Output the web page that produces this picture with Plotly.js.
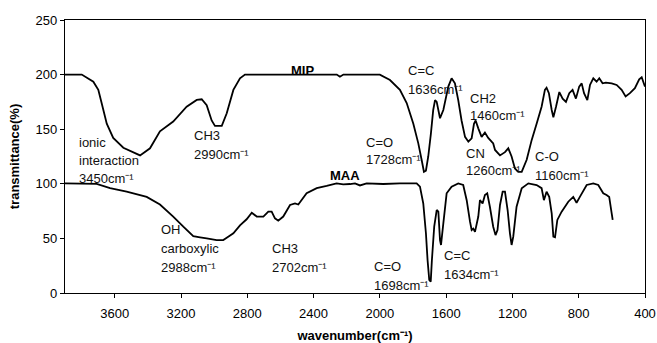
<!DOCTYPE html>
<html>
<head>
<meta charset="utf-8">
<script src="https://cdn.plot.ly/plotly-3.0.1.min.js"></script>
<style>html,body{margin:0;padding:0;background:#fff;}#chart{width:657px;height:343px;}</style>
</head>
<body>
<div id="chart"></div>
<script>
// MIP spectrum (wavenumber cm-1, transmittance %)
var mipWn = [3900,3799,3729,3699,3679,3648,3609,3548,3447,3387,3327,3247,3166,3105,3075,3045,3015,2995,2954,2924,2884,2844,2814,2500,2260,2241,2220,2060,2000,1939,1879,1838,1798,1768,1748,1734,1722,1708,1692,1678,1667,1657,1637,1617,1587,1567,1547,1527,1507,1486,1466,1446,1432,1422,1406,1386,1366,1346,1316,1305,1275,1245,1225,1205,1185,1165,1144,1114,1084,1054,1024,1004,994,980,963,953,937,917,897,877,857,837,817,797,782,768,748,732,712,692,676,656,636,601,571,541,517,491,461,435,420,400];
var mipT  = [200,200,193.5,186,174,155,142,133,126,132.5,148,157,170.6,176.8,177.4,172,158,153,153,164.6,186,196.6,200,200,200,198,200,200,200,195,186,174,155,137,122,111,112,125,146,167.6,176.7,175,160,167.6,189,196.6,192,176.7,158,143,138.6,141.7,155,158,150.8,143,147,142,137,131,126,129,132.5,125,114,111,111,122,140,155,170.6,186,188,183,167.6,161,170.6,184,178,175,183,186,178,189,192,183,176.7,190.5,196.6,193.5,196.6,192,192.6,192,190.5,186,180,183,187.5,195.7,197.6,189];
// MAA spectrum
var maaWn = [3900,3709,3628,3528,3407,3327,3247,3186,3126,3085,3045,2985,2945,2924,2884,2844,2804,2773,2743,2703,2673,2653,2633,2613,2583,2542,2512,2492,2442,2381,2321,2261,2221,2180,2150,2120,2080,1979,1879,1778,1758,1738,1722,1712,1702,1693,1686,1672,1657,1647,1637,1631,1617,1597,1567,1527,1497,1476,1456,1446,1436,1426,1406,1396,1380,1366,1352,1336,1316,1302,1290,1275,1259,1245,1229,1215,1205,1195,1175,1144,1104,1054,1024,1010,994,978,963,953,943,929,903,863,833,813,793,752,712,682,652,632,616,601,595];
var maaT  = [100.4,100,96,92.8,88,81,70,60.7,52,51,50,48.5,48.5,50.6,54.7,62,67.5,73.5,70,70,74.5,74.5,68.4,66.2,70,80.6,82,81,91.3,96,98,100.4,99.5,99.8,100.4,98.5,100.4,99.8,100.4,100.4,97.4,82,54.7,30,12,10.4,30,60.7,76,74.5,48.5,44,63.8,91.3,97.4,100.4,98.9,85,65.3,57.7,59,56,70,85,82,89.7,91.3,79,60.7,53,57.7,80.6,92.8,92.8,76,54.7,44,51.6,79,96,100.4,98.9,96,85,92.8,88,73,51.6,51,66.9,74.5,83.6,88,82.7,88,98.9,100.4,98.9,91.3,89.7,88,73,66.9];

var xTicks = [3600,3200,2800,2400,2000,1600,1200,800,400];
var yTicks = [0,50,100,150,200,250];

var lineStyle = {color:'#000', width:1.8, shape:'linear', simplify:false};
var traces = [
  {x: mipWn, y: mipT, type:'scatter', mode:'lines', name:'MIP', line: lineStyle, hoverinfo:'skip'},
  {x: maaWn, y: maaT, type:'scatter', mode:'lines', name:'MAA', line: lineStyle, hoverinfo:'skip'}
];

var F = 'Liberation Sans, Arial, sans-serif';
function lab(x, y, t, opts) {
  var a = {x:x, y:y, xref:'x', yref:'y', text:t, showarrow:false, xanchor:'left', yanchor:'middle',
           font:{family:F, size:13, color:'#111'}};
  if (opts) for (var k in opts) a[k] = opts[k];
  return a;
}
var sup = 'cm\u207B\u00B9';
var annotations = [
  lab(3828,137.4,'ionic'), lab(3828,120.9,'interaction'), lab(3828,105.3,'3450'+sup),
  lab(3135,143.8,'CH3'), lab(3135,127,'2990'+sup),
  lab(2464,203.8,'<b>MIP</b>',{xanchor:'center', font:{family:F,size:13,color:'#000'}}),
  lab(2210,108,'<b>MAA</b>',{xanchor:'center', font:{family:F,size:13,color:'#000'}}),
  lab(1842,203.6,'C=C'), lab(1842,186.5,'1636'+sup),
  lab(1466,178.3,'CH2'), lab(1466,162.1,'1460'+sup),
  lab(2096,137.4,'C=O'), lab(2096,121.8,'1728'+sup),
  lab(1492,128.2,'CN'), lab(1492,112,'1260'+sup),
  lab(1074,124.8,'C-O'), lab(1074,108,'1160'+sup),
  lab(3331,57.7,'OH'), lab(3331,40.3,'carboxylic'), lab(3331,23.5,'2988'+sup),
  lab(2663,40.3,'CH3'), lab(2663,23.5,'2702'+sup),
  lab(2049,24.1,'C=O'), lab(2049,7.3,'1698'+sup),
  lab(1623,33.9,'C=C'), lab(1623,17.4,'1634'+sup)
];

var layout = {
  width:657, height:343,
  margin:{l:65, r:12, t:20, b:50, pad:0},
  paper_bgcolor:'#fff', plot_bgcolor:'#fff',
  showlegend:false,
  font:{family:F, size:13, color:'#000'},
  xaxis:{
    range:[3900,400], tickmode:'array', tickvals:xTicks, ticktext:xTicks.map(String),
    showgrid:false, zeroline:false, showline:true, linecolor:'#000', linewidth:1.3, mirror:true,
    ticks:'outside', ticklen:4, tickcolor:'#000', tickwidth:1.2, ticklabelstandoff:4,
    tickfont:{family:F, size:13, color:'#000'},
    title:{text:'<b>wavenumber(cm\u207B\u00B9)</b>', font:{family:F, size:13, color:'#000'}, standoff:17}
  },
  yaxis:{
    range:[0,250], tickmode:'array', tickvals:yTicks, ticktext:yTicks.map(String),
    showgrid:false, zeroline:false, showline:true, linecolor:'#000', linewidth:1.3, mirror:true,
    ticks:'outside', ticklen:4, tickcolor:'#000', tickwidth:1.2,
    tickfont:{family:F, size:13, color:'#000'},
    title:{text:'<b>transmittance(%)</b>', font:{family:F, size:13, color:'#000'}, standoff:12}
  },
  annotations: annotations
};

Plotly.newPlot('chart', traces, layout, {displayModeBar:false});
</script>
</body>
</html>
